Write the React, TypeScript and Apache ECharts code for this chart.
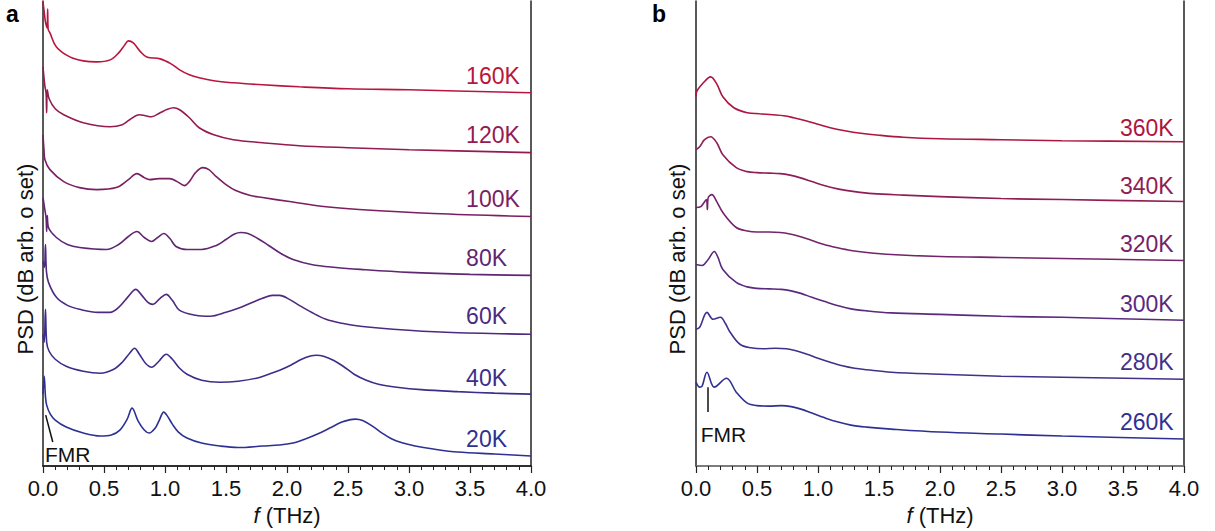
import React, { useEffect, useRef } from 'react';
import * as echarts from 'echarts';

const FONT = 'Liberation Sans, Arial, Helvetica, sans-serif';

// Panel a: temperatures, colours, label heights
const tempsA = ['20K', '40K', '60K', '80K', '100K', '120K', '160K'];
const colorsA = ['#2e3192', '#3d2d8a', '#4d2a80', '#5f2674', '#7a1f62', '#951a4f', '#b8163e'];
const labelYA = [27, 88, 150, 208, 268, 332, 391];

// Panel b
const tempsB = ['260K', '280K', '300K', '320K', '340K', '360K'];
const colorsB = ['#2e3192', '#43308a', '#5a2a7e', '#73246b', '#8f1d56', '#ac1640'];
const labelYB = [44, 104, 162, 222, 281, 339];

const ticksX = [0, 0.5, 1, 1.5, 2, 2.5, 3, 3.5, 4];

// [frequency (THz), PSD (dB, arbitrary offset)]
const a20 = [[0,72],[0.01,90],[0.02,70],[0.03,61],[0.06,52],[0.1,46],[0.19,39],[0.33,33],[0.47,30],[0.56,31],[0.63,36],[0.69,47],[0.73,58],[0.78,45],[0.83,36],[0.87,33],[0.92,38],[0.95,45],[0.99,54],[1.02,50],[1.06,42],[1.11,34],[1.18,28],[1.3,23],[1.45,20],[1.6,18.5],[1.8,20],[1.94,21],[2.05,23],[2.15,27],[2.25,32],[2.35,38],[2.45,44],[2.52,46.5],[2.56,47],[2.62,45.5],[2.7,40],[2.78,33],[2.86,27],[2.95,23],[3.05,20],[3.2,17],[3.4,14],[3.7,12],[4.0,10]];
const a40 = [[0,132],[0.01,124],[0.02,157],[0.03,124],[0.05,115],[0.1,107],[0.19,100],[0.33,95],[0.47,93],[0.58,97],[0.65,104],[0.71,113],[0.75,118],[0.79,112],[0.84,103],[0.89,99],[0.95,105],[1.01,112],[1.06,107],[1.12,98],[1.18,92],[1.3,86],[1.45,84],[1.6,85],[1.75,88],[1.85,92],[1.94,96],[2.03,101],[2.12,107],[2.2,110.5],[2.24,111],[2.3,110],[2.38,106],[2.46,100],[2.55,92],[2.65,86],[2.75,82],[2.9,79],[3.1,76.5],[3.4,74.5],[3.7,73],[4.0,72]];
const a60 = [[0,205],[0.012,199],[0.02,222],[0.028,195],[0.045,184],[0.11,169],[0.2,161],[0.3,157],[0.45,154],[0.55,154],[0.62,159],[0.7,170],[0.76,177],[0.81,171],[0.86,164],[0.9,162],[0.96,168],[1.01,172],[1.06,166],[1.12,156],[1.25,151],[1.37,150],[1.5,154],[1.6,158],[1.7,163],[1.8,168],[1.88,171],[1.94,171],[2.02,167],[2.1,161],[2.2,154],[2.32,147],[2.45,143],[2.6,140],[2.87,137],[3.3,134],[4.0,132]];
const a80 = [[0,269],[0.015,257],[0.025,249],[0.03,235],[0.035,251],[0.045,239],[0.11,229],[0.2,222],[0.3,219],[0.52,217],[0.62,222],[0.7,230],[0.77,235],[0.83,229],[0.89,225],[0.94,229],[0.99,233],[1.04,228],[1.09,220],[1.18,217],[1.3,217],[1.42,221],[1.5,227],[1.57,232.5],[1.62,234],[1.68,233],[1.76,228],[1.85,221],[1.95,213],[2.05,207],[2.2,202],[2.4,199],[2.6,197],[3.0,194],[3.5,192],[4.0,191]];
const a100 = [[0,332],[0.008,317],[0.016,307],[0.057,297],[0.17,285],[0.3,279],[0.44,277],[0.6,279],[0.7,287],[0.77,293],[0.83,289],[0.875,287],[0.95,288],[1.04,288],[1.1,285],[1.16,281],[1.2,285],[1.25,294],[1.31,299],[1.36,297],[1.42,290],[1.5,282],[1.58,276],[1.7,271],[1.8,269],[2.02,265],[2.3,260],[2.59,257],[3.2,253],[4.0,250]];
const a120 = [[0,400],[0.015,381],[0.025,374],[0.03,354],[0.035,377],[0.05,368],[0.1,358],[0.17,352],[0.33,344],[0.55,340],[0.65,342],[0.71,347],[0.79,352],[0.84,351],[0.89,350],[0.96,354],[1.02,357.5],[1.07,359],[1.12,357],[1.2,349],[1.28,339],[1.4,332],[1.56,327],[1.8,324],[2.1,321],[2.5,319],[3.0,317],[4.0,314]];
const a160 = [[0,465],[0.01,455],[0.02,445],[0.034,439],[0.038,458],[0.042,438],[0.057,434],[0.11,420],[0.22,410],[0.33,406],[0.44,405],[0.55,407],[0.62,414],[0.67,422],[0.7,426],[0.74,424],[0.8,415],[0.85,410],[0.96,408],[1.05,403],[1.12,397],[1.2,392],[1.28,389],[1.4,386],[1.56,384],[1.8,382],[2.1,380],[2.5,378],[3.0,377],[4.0,374]];

const b260 = [[0,84],[0.03,79],[0.05,80],[0.09,94],[0.15,79],[0.25,88],[0.33,74],[0.42,63],[0.5,60.5],[0.6,60],[0.7,60.5],[0.78,59.5],[0.86,57],[0.95,53],[1.05,48.5],[1.15,44.5],[1.27,41],[1.4,39],[1.6,37],[2.0,34],[2.5,32],[3.0,30],[4.0,27]];
const b280 = [[0,137],[0.03,139],[0.09,154],[0.14,147],[0.2,149],[0.24,143],[0.28,134],[0.36,122],[0.45,118.5],[0.55,117.5],[0.65,118],[0.74,117.5],[0.82,115.5],[0.91,112],[1.0,108],[1.1,104],[1.2,100.5],[1.3,98],[1.4,96.5],[1.6,94],[2.0,92],[2.5,90],[3.0,89],[4.0,87]];
const b300 = [[0,202],[0.05,201],[0.1,207],[0.15,215],[0.18,209],[0.22,197],[0.33,184],[0.42,179.5],[0.5,178],[0.6,177.5],[0.7,177],[0.78,175.5],[0.86,173],[0.95,169],[1.05,165],[1.15,161],[1.27,157.5],[1.4,155.5],[1.6,153.5],[2.0,152],[2.5,150],[3.0,149],[4.0,146]];
const b320 = [[0,259],[0.04,260],[0.085,267],[0.093,257],[0.1,269],[0.13,272],[0.17,265],[0.22,254],[0.33,239],[0.42,235.5],[0.5,234.5],[0.6,234.5],[0.69,234],[0.77,232.5],[0.85,230],[0.95,226],[1.05,222],[1.15,219],[1.27,216],[1.4,214],[1.6,212],[2.0,210],[2.5,209],[3.0,208],[4.0,206]];
const b340 = [[0,317],[0.03,320],[0.07,327],[0.12,330],[0.17,324],[0.22,312],[0.33,299],[0.42,295],[0.5,294],[0.6,293.5],[0.69,293],[0.77,291.5],[0.85,289],[0.95,285],[1.05,281],[1.17,277.5],[1.3,275],[1.45,273],[1.7,271.5],[2.0,270],[2.5,268],[3.0,267],[4.0,265]];
const b360 = [[0,370],[0.005,375],[0.06,384],[0.12,390],[0.17,383],[0.22,370],[0.31,359],[0.42,354],[0.52,353],[0.63,352],[0.72,351],[0.8,349],[0.9,346],[1.0,342.5],[1.1,339],[1.22,336],[1.35,333.5],[1.5,331.5],[1.7,329.5],[2.0,328],[2.5,327],[3.0,326],[4.0,325]];

const seriesA = [a20, a40, a60, a80, a100, a120, a160];
const seriesB = [b260, b280, b300, b320, b340, b360];

// FMR annotations [f, PSD]
const fmrA = { from: [0.022, 51], to: [0.08, 24], text: [0.016, 12] };
const fmrB = { from: [0.093, 79], to: [0.093, 54], text: [0.039, 32] };
const labelXA = 3.468;
const labelXB = 3.475;

export default function App() {
  const ref = useRef<HTMLDivElement>(null);
  useEffect(() => {
    document.body.style.margin = '0';
    const chart = echarts.init(ref.current!, undefined, { renderer: 'svg' });
    const axisColor = '#222';
    const mkBottom = (gi: number) => ({
      type: 'value', gridIndex: gi, min: 0, max: 4, interval: 0.5, position: 'bottom',
      axisLine: { show: true, lineStyle: { color: axisColor, width: 1.5 } },
      axisTick: { show: true, length: 7, lineStyle: { color: axisColor, width: 1.2 } },
      minorTick: { show: true, splitNumber: 5, length: 4, lineStyle: { color: axisColor, width: 1 } },
      splitLine: { show: false },
      axisLabel: { fontSize: 22, color: '#111', fontFamily: FONT, margin: 11, formatter: (v: number) => v.toFixed(1),
        customValues: ticksX },
      name: '{i|f} (THz)', nameLocation: 'middle', nameGap: 38,
      nameTextStyle: { fontSize: 22, color: '#111', fontFamily: FONT, rich: { i: { fontStyle: 'italic', fontSize: 22, fontFamily: FONT, color: '#111' } } },
    });
    const mkTop = (gi: number, c: string) => ({
      type: 'value', gridIndex: gi, min: 0, max: 4, position: 'top',
      axisLine: { show: true, lineStyle: { color: c, width: 1.5 } },
      axisTick: { show: false }, axisLabel: { show: false }, splitLine: { show: false },
    });
    const mkY = (gi: number, pos: string) => ({
      type: 'value', gridIndex: gi, min: 0, max: 466, position: pos,
      axisLine: { show: true, onZero: false, lineStyle: { color: axisColor, width: 1.5 } },
      axisTick: { show: false }, axisLabel: { show: false }, splitLine: { show: false },
    });
    const mkSeries = (data: number[][], color: string, name: string, gi: number, lx: number, ly: number) => ({
      type: 'line', name, data, xAxisIndex: gi * 2, yAxisIndex: gi * 2, showSymbol: false, smooth: 0.35,
      lineStyle: { color, width: 1.6 }, silent: true,
      markPoint: {
        symbol: 'circle', symbolSize: 0, silent: true,
        data: [{ name, coord: [lx, ly] }],
        label: { show: true, formatter: '{b}', position: 'inside', align: 'left', verticalAlign: 'middle', fontSize: 23, color, fontFamily: FONT },
      },
    });
    const fmrSeries = (f: any, gi: number) => ({
      type: 'line', data: [], xAxisIndex: gi * 2, yAxisIndex: gi * 2, silent: true,
      markLine: {
        symbol: ['none', 'none'], silent: true, label: { show: false },
        lineStyle: { color: '#111', width: 1.5, type: 'solid' },
        data: [[{ coord: f.from }, { coord: f.to }]],
      },
      markPoint: {
        symbol: 'circle', symbolSize: 0, silent: true,
        data: [{ name: 'FMR', coord: f.text }],
        label: { show: true, formatter: '{b}', position: 'inside', align: 'left', verticalAlign: 'middle', fontSize: 21, color: '#111', fontFamily: FONT },
      },
    });
    const series: any[] = [];
    seriesA.forEach((d, i) => series.push(mkSeries(d, colorsA[i], tempsA[i], 0, labelXA, labelYA[i])));
    seriesB.forEach((d, i) => series.push(mkSeries(d, colorsB[i], tempsB[i], 1, labelXB, labelYB[i])));
    series.push(fmrSeries(fmrA, 0));
    series.push(fmrSeries(fmrB, 1));

    chart.setOption({
      animation: false,
      grid: [
        { left: 43, top: 1, width: 488, height: 466 },
        { left: 696, top: 1, width: 488, height: 466 },
      ],
      xAxis: [mkBottom(0), mkTop(0, axisColor), mkBottom(1), mkTop(1, '#888')],
      yAxis: [mkY(0, 'left'), mkY(0, 'right'), mkY(1, 'left'), mkY(1, 'right')],
      series,
      graphic: [
        { type: 'text', x: 6, y: 2, style: { text: 'a', fontSize: 23, fontWeight: 'bold', fontFamily: FONT, fill: '#000' } },
        { type: 'text', x: 652, y: 2, style: { text: 'b', fontSize: 23, fontWeight: 'bold', fontFamily: FONT, fill: '#000' } },
        { type: 'text', x: 25, y: 259, rotation: Math.PI / 2, style: { text: 'PSD (dB arb. o set)', fontSize: 22, fontFamily: FONT, fill: '#111', align: 'center', verticalAlign: 'middle' } },
        { type: 'text', x: 677, y: 259, rotation: Math.PI / 2, style: { text: 'PSD (dB arb. o set)', fontSize: 22, fontFamily: FONT, fill: '#111', align: 'center', verticalAlign: 'middle' } },
      ],
    });
    return () => chart.dispose();
  }, []);
  return <div ref={ref} style={{ width: 1215, height: 531 }} />;
}
